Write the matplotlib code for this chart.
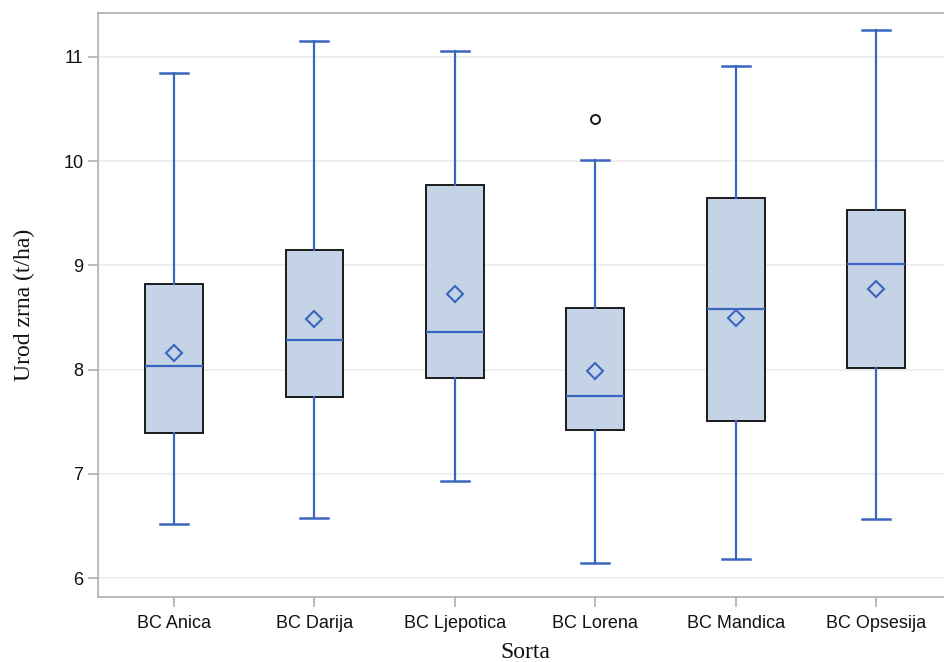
import matplotlib.pyplot as plt

sorte = ["BC Anica", "BC Darija", "BC Ljepotica", "BC Lorena", "BC Mandica", "BC Opsesija"]
donji_brk = [6.52, 6.58, 6.93, 6.15, 6.18, 6.57]
q1 = [7.39, 7.74, 7.92, 7.42, 7.51, 8.02]
medijan = [8.04, 8.28, 8.36, 7.75, 8.58, 9.01]
q3 = [8.82, 9.15, 9.77, 8.59, 9.65, 9.53]
gornji_brk = [10.85, 11.15, 11.06, 10.01, 10.91, 11.26]
prosjek = [8.16, 8.49, 8.73, 7.99, 8.50, 8.77]
outlieri = [[], [], [], [10.40], [], []]

plava = "#3a66c0"
ispuna = "#c5d3e6"

stats = []
for i in range(len(sorte)):
    stats.append({
        "label": sorte[i], "whislo": donji_brk[i], "q1": q1[i], "med": medijan[i],
        "q3": q3[i], "whishi": gornji_brk[i], "mean": prosjek[i], "fliers": outlieri[i],
    })

fig = plt.figure(figsize=(9.44, 6.62), dpi=100)
ax = fig.add_axes([0.1038, 0.0982, 0.9047, 0.882])

ax.bxp(stats, positions=range(len(sorte)), widths=0.41, patch_artist=True,
       showmeans=True, showfliers=True,
       boxprops=dict(facecolor=ispuna, edgecolor="#1a1a1a", linewidth=1.4),
       medianprops=dict(color=plava, linewidth=1.6),
       whiskerprops=dict(color=plava, linewidth=1.6),
       capprops=dict(color=plava, linewidth=1.8),
       capwidths=0.2,
       meanprops=dict(marker="D", markerfacecolor="none", markeredgecolor=plava,
                      markeredgewidth=1.5, markersize=8),
       flierprops=dict(marker="o", markerfacecolor="none", markeredgecolor="#1a1a1a",
                       markeredgewidth=1.4, markersize=6.5),
       zorder=3)

ax.set_xlim(-0.54, 5.54)
ax.set_ylim(5.82, 11.42)
ax.set_yticks([6, 7, 8, 9, 10, 11])
ax.set_xticks(range(len(sorte)))
ax.set_xticklabels(sorte)
ax.yaxis.grid(True, color="#ececec", linewidth=1.2)
ax.set_axisbelow(True)

for s in ax.spines.values():
    s.set_color("#a8b0b8")
    s.set_linewidth(1.2)

ax.tick_params(axis="both", colors="#a8b0b8", length=7, width=1.2, labelcolor="#111111",
               labelsize=13)
for t in ax.get_xticklabels() + ax.get_yticklabels():
    t.set_family(["Liberation Sans", "DejaVu Sans"])
ax.tick_params(axis="x", pad=6)

ax.set_xlabel("Sorta", family="Liberation Serif", fontsize=17, color="#111111", labelpad=7)
ax.set_ylabel("Urod zrna (t/ha)", family="Liberation Serif", fontsize=17, color="#111111",
              labelpad=20)

fig.savefig("out.png", dpi=100)
